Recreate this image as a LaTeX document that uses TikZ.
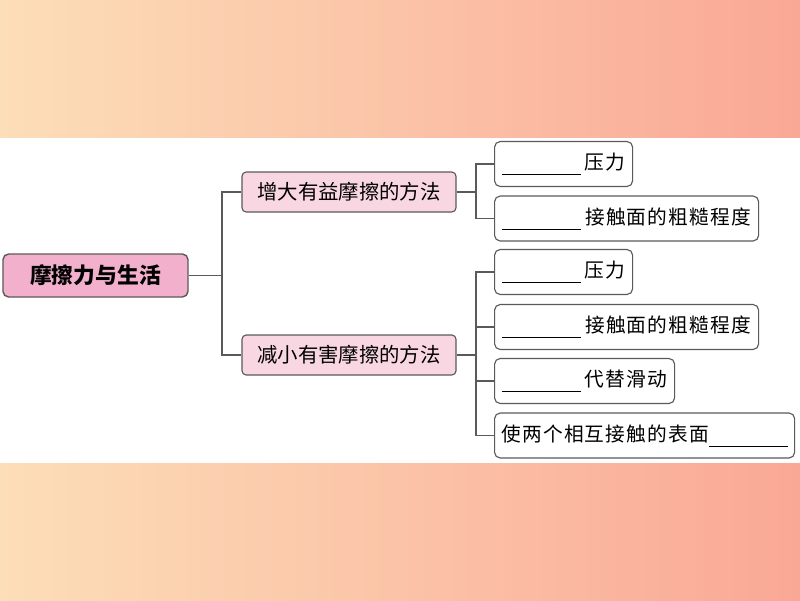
\documentclass[tikz,border=0pt]{standalone}
\usepackage{fontspec}
\newfontfamily\cjk{Noto Sans CJK SC}
\newfontfamily\cjkleaf{Noto Sans CJK SC}[LetterSpace=6]
\definecolor{bgleft}{RGB}{252,222,184}
\definecolor{bgright}{RGB}{250,168,150}
\definecolor{rootpink}{RGB}{242,176,204}
\definecolor{branchpink}{RGB}{248,214,226}
\definecolor{edgegray}{RGB}{90,90,90}
\newcommand{\blank}{\rule[-4pt]{56pt}{0.6pt}}

\begin{document}
\begin{tikzpicture}[x=0.025cm, y=-0.025cm,
    root/.style={draw=edgegray, line width=1pt, rounded corners=4pt, fill=rootpink,
      minimum width=4.625cm, minimum height=1.075cm, font=\cjk\bfseries\fontsize{15.5}{18}\selectfont},
    branch/.style={draw=edgegray, line width=0.8pt, rounded corners=3pt, fill=branchpink,
      minimum width=5.35cm, minimum height=1cm, font=\cjk\fontsize{14.5}{17}\selectfont},
    leaf/.style={draw=edgegray, line width=0.8pt, rounded corners=4pt, fill=white, anchor=west,
      minimum height=1.125cm, inner xsep=3pt, font=\cjkleaf\fontsize{14}{16}\selectfont},
    link/.style={draw=edgegray, line width=0.9pt}]
  \useasboundingbox (0,0) rectangle (800,600);
  % Fondo
  \shade[left color=bgleft, right color=bgright] (0,0) rectangle (800,137);
  \shade[left color=bgleft, right color=bgright] (0,463) rectangle (800,600);

  % Nodos
  \node[root] (root) at (95.5,275.5) {摩擦力与生活};
  \node[branch] (b1) at (349,192) {增大有益摩擦的方法};
  \node[branch] (b2) at (349,355) {减小有害摩擦的方法};
  \node[leaf, minimum width=3.45cm] (l1) at (494,164) {\blank\hspace{3pt}压力};
  \node[leaf, minimum width=6.6cm] (l2) at (494,218.5) {\blank\hspace{3pt}接触面的粗糙程度};
  \node[leaf, minimum width=3.45cm] (l3) at (494,272) {\blank\hspace{3pt}压力};
  \node[leaf, minimum width=6.6cm] (l4) at (494,327) {\blank\hspace{3pt}接触面的粗糙程度};
  \node[leaf, minimum width=4.5cm] (l5) at (494,381) {\blank\hspace{3pt}代替滑动};
  \node[leaf, minimum width=7.5cm] (l6) at (494,435.5) {使两个相互接触的表面\blank};

  % Aristas
  \coordinate (j0) at (222,275.5);
  \coordinate (j1) at (476,192);
  \coordinate (j2) at (476,355);
  \draw[link] (root.east) -- (j0);
  \draw[link] (j0) |- (b1.west);
  \draw[link] (j0) |- (b2.west);
  \draw[link] (b1.east) -- (j1);
  \draw[link] (b2.east) -- (j2);
  \foreach \n in {l1,l2} \draw[link] (j1) |- (\n.west);
  \foreach \n in {l3,l4,l5,l6} \draw[link] (j2) |- (\n.west);
\end{tikzpicture}
\end{document}
